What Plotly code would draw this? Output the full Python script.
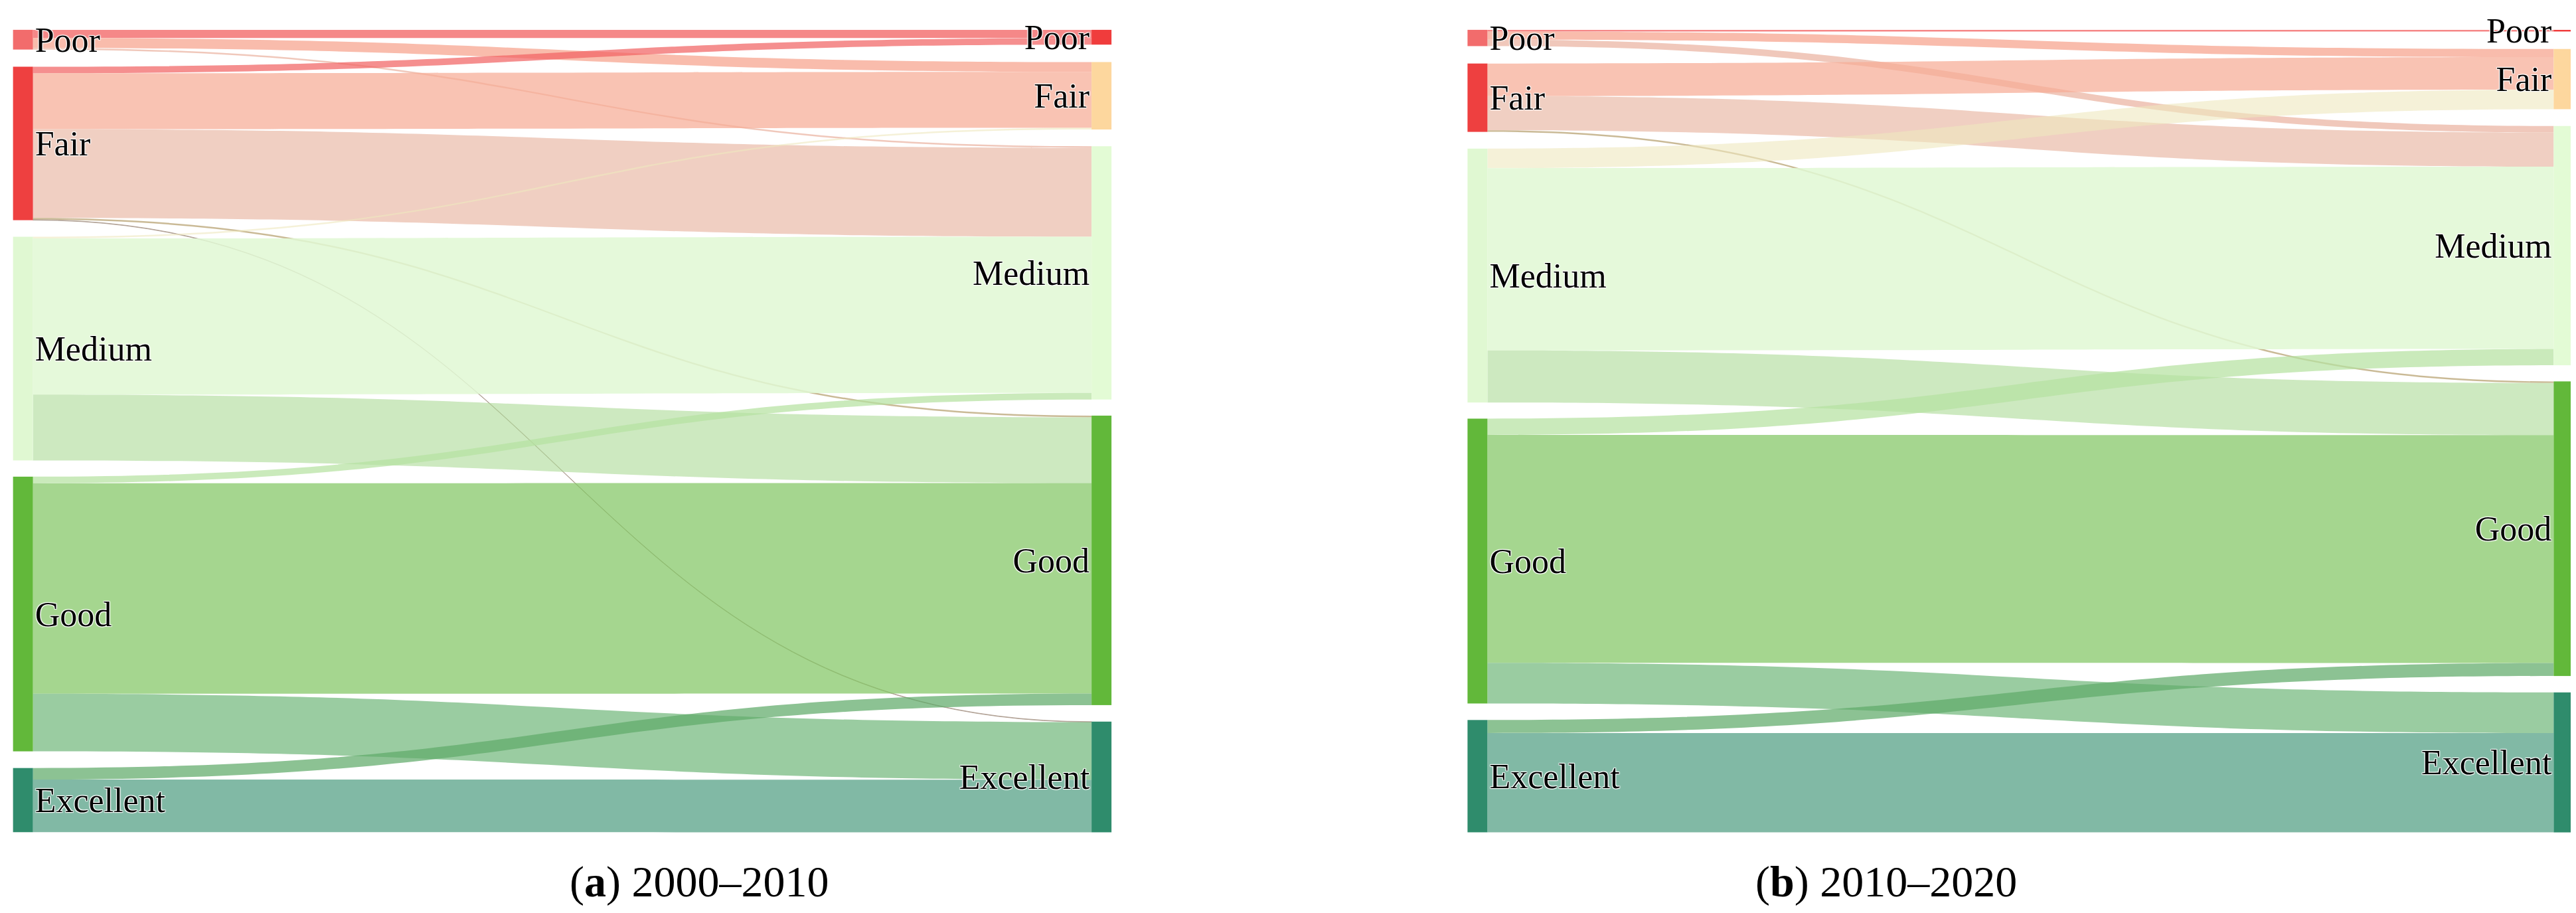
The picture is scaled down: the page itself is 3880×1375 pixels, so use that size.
import plotly.graph_objects as go

labels = ["Poor", "Fair", "Medium", "Good", "Excellent"]
# panel (a) 2000-2010 flows: source class -> target class
src_a = [0,0,0, 1,1,1,1,1, 2,2,2, 3,3,3, 4,4]
tgt_a = [0,1,2, 0,1,2,3,4, 1,2,3, 2,3,4, 3,4]
val_a = [5,6,1, 4,34,54,1,0.3, 1,95,40, 4,128,35, 7,32]
# panel (b) 2010-2020
src_b = [0,0,0, 1,1,1, 2,2,2, 3,3,3, 4,4]
tgt_b = [0,1,2, 1,2,3, 1,2,3, 2,3,4, 3,4]
val_b = [1,5,4, 20,21,1, 12,112,32, 10,140,25, 8,61]

left_cols = ["#f26c6c", "#ee4040", "#e0f8d2", "#62b83a", "#2f8c6c"]
right_cols = ["#f03c3c", "#fdd79e", "#e3fbd5", "#62b83a", "#2f8c6c"]
src_rgb = {0: (242,110,110), 1: (242,130,130), 2: (224,248,210), 3: (140,205,110), 4: (70,150,120)}
tgt_rgb = {0: (240,70,70), 1: (252,215,170), 2: (225,248,212), 3: (120,190,90), 4: (90,165,140)}

def mix(s, t):
    a, b = src_rgb[s], tgt_rgb[t]
    c = [round(0.5 * x + 0.5 * y) for x, y in zip(a, b)]
    alpha = 0.85 if s == t == 2 else (0.6 if s == 2 else 0.72)
    return f"rgba({c[0]},{c[1]},{c[2]},{alpha})"

def build(src, tgt, val, dom):
    n = len(labels)
    lsum = [sum(v for s, v in zip(src, val) if s == i) for i in range(n)]
    rsum = [sum(v for t, v in zip(tgt, val) if t == i) for i in range(n)]
    def ys(sums):
        tot = sum(sums); gap = 0.022; scale = (1 - gap * (n - 1)) / tot
        out = []; c = 0
        for s in sums:
            out.append(max(0.001, c + s * scale / 2)); c += s * scale + gap
        return out
    colors = [mix(s, t) for s, t in zip(src, tgt)]
    return go.Sankey(
        domain=dict(x=dom, y=[0, 1]), arrangement="fixed",
        textfont=dict(family="Liberation Serif", size=52, color="black"),
        node=dict(label=labels + labels, color=left_cols + right_cols,
                  pad=25, thickness=30, line=dict(width=0),
                  x=[0.001] * n + [0.999] * n, y=ys(lsum) + ys(rsum)),
        link=dict(source=src, target=[t + n for t in tgt], value=val, color=colors))

fig = go.Figure([build(src_a, tgt_a, val_a, [0.0, 0.425]),
                 build(src_b, tgt_b, val_b, [0.572, 1.0])])
for x, l, r in [(0.215, "a", "2000–2010"), (0.785, "b", "2010–2020")]:
    fig.add_annotation(x=x, y=-0.03, xref="paper", yref="paper", yanchor="top", showarrow=False,
                       text=f"(<b>{l}</b>) {r}", font=dict(family="Liberation Serif", size=66, color="black"))
fig.update_layout(width=3880, height=1375, paper_bgcolor="white",
                  margin=dict(l=25, r=25, t=37, b=130))
fig.write_html("out.html")
